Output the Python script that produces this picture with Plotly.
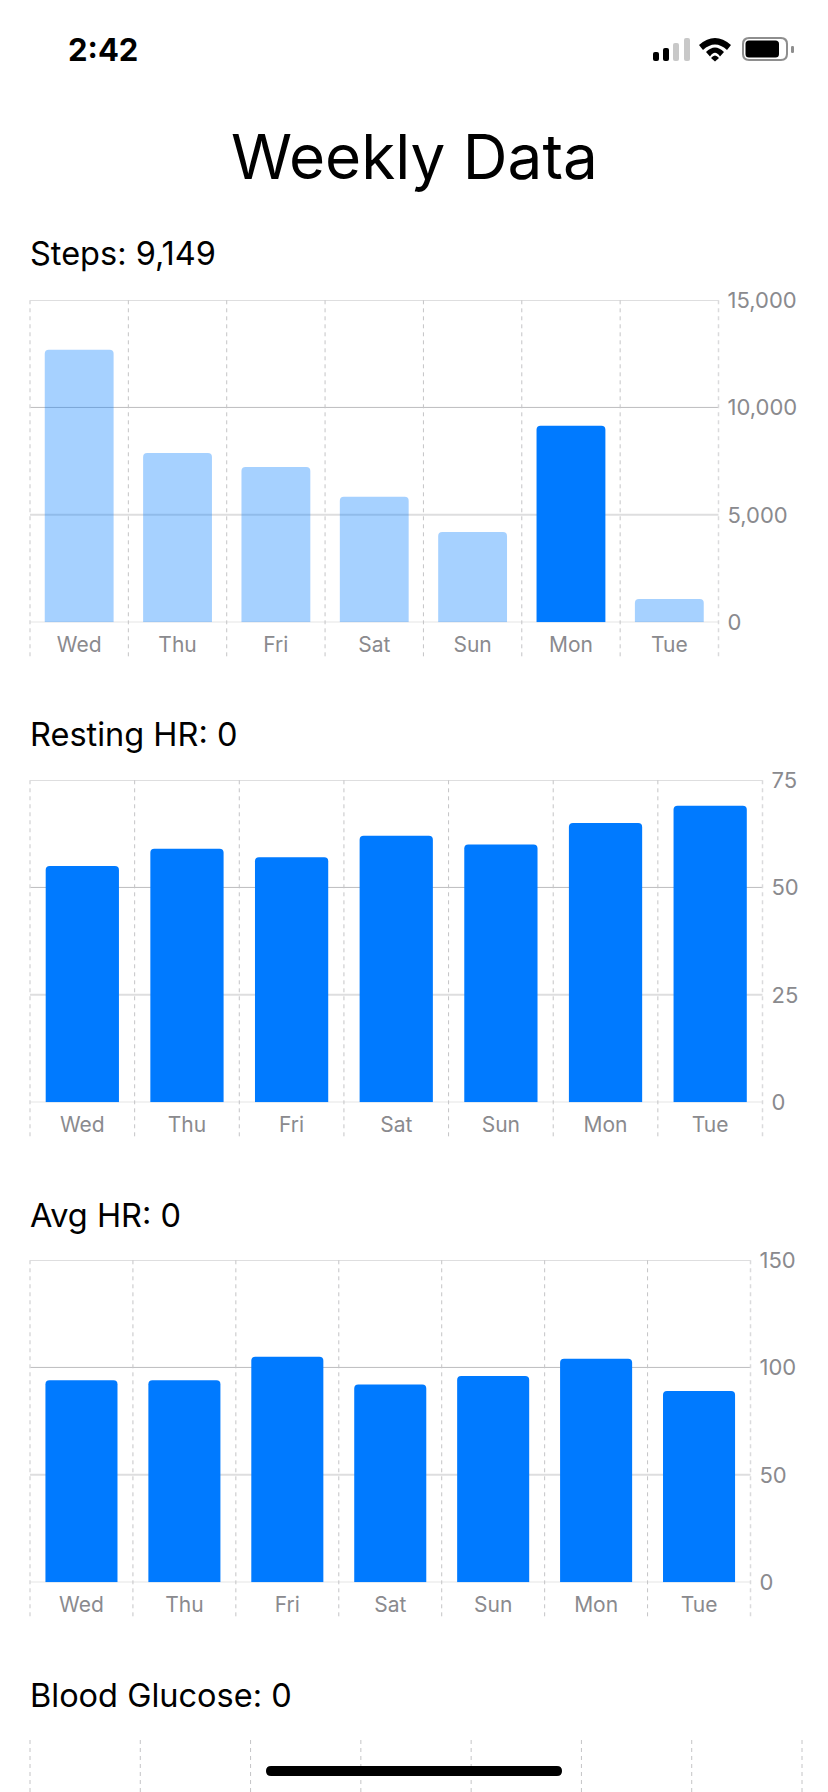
import plotly.graph_objects as go

WIDTH, HEIGHT = 828, 1792
FONT = "Inter"
BLUE = "#007AFF"
PALE_BLUE = "rgba(0,122,255,0.35)"
TICK_GREY = "#8A8A8E"
DASH_GREY = "#C4C4C6"
STRONG_RULE = "#BDBDBF"
SOFT_RULE = "#DEDEDF"

days = ["Wed", "Thu", "Fri", "Sat", "Sun", "Mon", "Tue"]

steps = [12680, 7880, 7230, 5840, 4200, 9149, 1090]
steps_ticks = [0, 5000, 10000, 15000]
steps_colors = [PALE_BLUE, PALE_BLUE, PALE_BLUE, PALE_BLUE, PALE_BLUE, BLUE, PALE_BLUE]

resting_hr = [55, 59, 57, 62, 60, 65, 69]
resting_ticks = [0, 25, 50, 75]

avg_hr = [94, 94, 105, 92, 96, 104, 89]
avg_ticks = [0, 50, 100, 150]

panel_titles = ["Steps: 9,149", "Resting HR: 0", "Avg HR: 0", "Blood Glucose: 0"]


def py(y):
    """Convert a pixel row, measured from the top, to paper height."""
    return 1 - y / HEIGHT


def px(x):
    return x / WIDTH


panels = [
    dict(values=steps, ticks=steps_ticks, colors=steps_colors, left=30, right=718.5, top=300, base=622.3),
    dict(values=resting_hr, ticks=resting_ticks, colors=BLUE, left=30, right=762.5, top=780, base=1102.3),
    dict(values=avg_hr, ticks=avg_ticks, colors=BLUE, left=30, right=750.5, top=1260, base=1582.3),
]

fig = go.Figure()
shapes = []
annotations = []

for n, p in enumerate(panels, start=1):
    suffix = "" if n == 1 else str(n)
    fig.add_trace(go.Bar(
        x=days, y=p["values"], width=0.7, marker=dict(color=p["colors"], line_width=0),
        xaxis=f"x{suffix}", yaxis=f"y{suffix}", showlegend=False, hoverinfo="skip",
    ))
    fig.layout[f"xaxis{suffix}"] = dict(
        domain=[px(p["left"]), px(p["right"])], anchor=f"y{suffix}", type="category",
        categoryorder="array", categoryarray=days, range=[-0.5, 6.5], automargin=False,
        showgrid=False, showline=False, zeroline=False, ticks="",
        tickfont=dict(family=FONT, size=21, color=TICK_GREY), ticklabelstandoff=8,
    )
    fig.layout[f"yaxis{suffix}"] = dict(
        domain=[py(p["base"]), py(p["top"])], anchor=f"x{suffix}", side="right",
        range=[p["ticks"][0], p["ticks"][-1]], tickvals=p["ticks"], tickformat=",d", automargin=False,
        showgrid=False, showline=False, zeroline=False, ticks="",
        tickfont=dict(family=FONT, size=22, color=TICK_GREY), ticklabelstandoff=8,
    )
    # Value rules: the 0 and middle rules are strong, the others soft and wider.
    for i, t in enumerate(p["ticks"]):
        strong = i in (0, 2)
        shapes.append(dict(
            type="line", layer="below", xref=f"x{suffix} domain", yref=f"y{suffix}",
            x0=0, x1=1, y0=t, y1=t,
            line=dict(color=STRONG_RULE if strong else SOFT_RULE, width=1 if strong else 2),
        ))
    # Day separators run on through the label strip under the axis.
    below = -34 / (p["base"] - p["top"])
    for i in range(len(days) + 1):
        edge = i in (0, len(days))
        shapes.append(dict(
            type="line", layer="below", xref=f"x{suffix} domain", yref=f"y{suffix} domain",
            x0=i / len(days), x1=i / len(days), y0=below, y1=1,
            line=dict(color="#DADADC" if edge else DASH_GREY, width=1.5 if edge else 1, dash="4px,4px"),
        ))

# The fourth panel starts just above the bottom edge of the screen.
for i in range(len(days) + 1):
    x = 30 + i * (802 - 30) / len(days)
    shapes.append(dict(
        type="line", layer="below", xref="paper", yref="paper",
        x0=px(x), x1=px(x), y0=py(1740), y1=0,
        line=dict(color=DASH_GREY, width=1, dash="4px,4px"),
    ))

# Panel headings and page title.
for text, y in zip(panel_titles, [254, 734, 1215, 1695]):
    annotations.append(dict(
        text=text, xref="paper", yref="paper", x=px(28), y=py(y), xanchor="left", yanchor="middle",
        showarrow=False, font=dict(family=FONT, size=32.5, color="black"),
    ))
annotations.append(dict(
    text="Weekly Data", xref="paper", yref="paper", x=0.5, y=py(157), xanchor="center", yanchor="middle",
    showarrow=False, font=dict(family=FONT, size=62, color="black"),
))
annotations.append(dict(
    text="<b>2:42</b>", xref="paper", yref="paper", x=px(103), y=py(50), xanchor="center", yanchor="middle",
    showarrow=False, font=dict(family=FONT, size=31, color="black"),
))


def pill(x0, y0, x1, y1, color, radius=2.0):
    """Rounded rectangle in screen pixels, as a paper-space SVG path."""
    r = radius
    pts = (
        f"M {px(x0 + r)} {py(y0)} L {px(x1 - r)} {py(y0)} "
        f"Q {px(x1)} {py(y0)} {px(x1)} {py(y0 + r)} L {px(x1)} {py(y1 - r)} "
        f"Q {px(x1)} {py(y1)} {px(x1 - r)} {py(y1)} L {px(x0 + r)} {py(y1)} "
        f"Q {px(x0)} {py(y1)} {px(x0)} {py(y1 - r)} L {px(x0)} {py(y0 + r)} "
        f"Q {px(x0)} {py(y0)} {px(x0 + r)} {py(y0)} Z"
    )
    return dict(type="path", path=pts, xref="paper", yref="paper", fillcolor=color, line_width=0, layer="above")


def pt(x, y):
    return f"{px(x)} {py(y)}"


# Status bar: signal strength.
shapes += [
    pill(653, 52, 659, 61, "black", 2),
    pill(663, 48, 669, 61, "black", 2),
    pill(673, 43, 679, 61, "#C8C8C8", 2),
    pill(684, 38, 690, 61, "#C8C8C8", 2),
]
# Status bar: wifi arcs and dot.
wifi_paths = [
    f"M {pt(699, 45)} Q {pt(715, 31)} {pt(731, 45)} L {pt(727, 50)} Q {pt(715, 39)} {pt(703, 50)} Z",
    f"M {pt(706, 52)} Q {pt(715, 43)} {pt(724, 52)} L {pt(720, 56.5)} Q {pt(715, 49)} {pt(710, 56.5)} Z",
    f"M {pt(711, 58)} Q {pt(715, 53)} {pt(719, 58)} L {pt(715, 61.5)} Z",
]
for path in wifi_paths:
    shapes.append(dict(type="path", path=path, xref="paper", yref="paper", fillcolor="black", line_width=0, layer="above"))
# Status bar: battery.
shapes += [
    pill(742, 37, 788, 61, "#8E8E8E", 7),
    pill(744, 39, 786, 59, "white", 5.5),
    pill(745.5, 40.5, 779, 57.5, "black", 3.5),
    pill(791, 46, 794, 53, "#8E8E8E", 1.2),
]
# Home indicator.
shapes.append(pill(266, 1766, 562, 1776, "black", 5))

fig.update_layout(
    width=WIDTH, height=HEIGHT, margin=dict(l=0, r=0, t=0, b=0, pad=0),
    paper_bgcolor="white", plot_bgcolor="rgba(0,0,0,0)",
    barcornerradius=4, shapes=shapes, annotations=annotations,
    font=dict(family=FONT), showlegend=False,
)

fig.write_html("out.html", config=dict(displayModeBar=False))
